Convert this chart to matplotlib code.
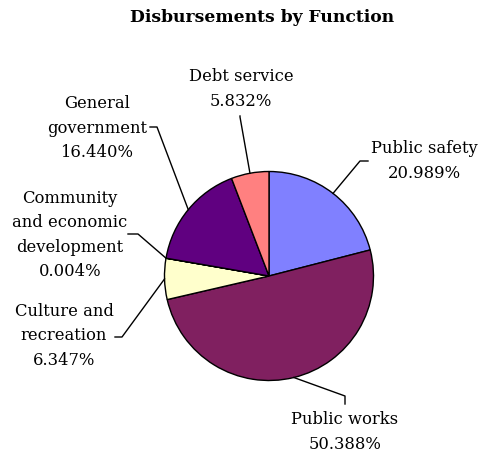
import numpy as np
import matplotlib
matplotlib.use("Agg")
import matplotlib.pyplot as plt

# data, clockwise from 12 o'clock
labels = [
    "Public safety",
    "Public works",
    "Culture and\nrecreation",
    "Community\nand economic\ndevelopment",
    "General\ngovernment",
    "Debt service",
]
shares = [20.989, 50.388, 6.347, 0.004, 16.440, 5.832]
colors = ["#8080FF", "#802060", "#FFFFCC", "#0080C0", "#600080", "#FF8080"]

W, H = 484, 452
CX, CY, R = 269, 277, 104.5

# label layout in image pixels: text centre, elbow point, line end
label_pos = [(424, 161), (345, 432), (64, 336), (70, 235), (97, 128), (241, 89)]
elbows = [(360, 162), (345, 397), (122, 338), (138, 235), (157, 128), (240, 118)]
ends = [(368, 162), (345, 405), (115, 338), (128, 235), (150, 128), (240, 117)]


def px(x, y):
    return (x - CX) / R, (CY - y) / R


fig = plt.figure(figsize=(W / 100, H / 100), dpi=100)
ax = fig.add_axes([0, 0, 1, 1])
ax.axis("off")

wedges, _ = ax.pie(
    shares,
    colors=colors,
    startangle=90,
    counterclock=False,
    radius=1,
    wedgeprops=dict(edgecolor="black", linewidth=1),
)
ax.set_xlim(-CX / R, (W - CX) / R)
ax.set_ylim((CY - H) / R, CY / R)
ax.set_aspect("auto")

font = dict(family="DejaVu Serif", size=11.8)
for w, lab, val, pos, elb, end in zip(wedges, labels, shares, label_pos, elbows, ends):
    mid = np.deg2rad((w.theta1 + w.theta2) / 2)
    x0, y0 = np.cos(mid), np.sin(mid)
    ex, ey = px(*elb)
    tx, ty = px(*end)
    ax.plot([x0, ex, tx], [y0, ey, ty], color="black", linewidth=1)
    ax.text(*px(*pos), f"{lab}\n{val:.3f}%", ha="center", va="center",
            multialignment="center", linespacing=1.55, **font)

fig.text(262 / W, 1 - 18 / H, "Disbursements by Function", ha="center", va="center",
         family="DejaVu Serif", size=12.3, weight="bold")

fig.savefig("out.png", dpi=100)
